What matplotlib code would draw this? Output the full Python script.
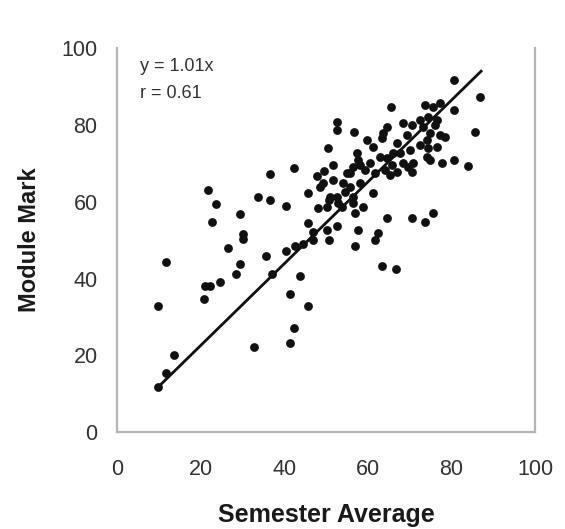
import matplotlib
matplotlib.use("Agg")
import matplotlib.pyplot as plt

# valeurs
semester_avg = [9.7, 11.7, 9.9, 11.7, 13.6, 20.8, 21.1, 22.2, 24.6, 26.6,
                28.4, 29.4, 30.2, 30.2, 29.5, 22.8, 23.8, 21.7, 33.8, 36.7,
                40.5, 36.7, 42.4, 50.4, 35.6, 40.4, 42.6, 44.6, 47.0, 37.0,
                43.8, 41.4, 45.8, 42.4, 41.4, 32.8, 45.8, 47.8, 49.5, 48.6,
                48.2, 45.8, 46.9, 50.2, 52.6, 50.6, 50.2, 52.9, 52.6, 52.6,
                51.7, 51.7, 50.6, 52.6, 55.0, 53.8, 56.7, 63.7, 64.5, 63.3,
                59.7, 61.3, 65.5, 68.5, 70.5, 72.5, 74.5, 73.7, 75.7, 77.3,
                76.5, 76.1, 73.3, 74.9, 77.3, 78.5, 69.3, 66.9, 66.1, 72.5,
                74.1, 74.5, 76.5, 74.1, 74.9, 77.7, 70.1, 67.7, 68.5, 70.9,
                69.7, 70.5, 80.5, 83.9, 80.5, 86.8, 80.5, 85.6, 57.3, 57.7,
                56.5, 58.1, 59.3, 60.5, 62.9, 64.5, 65.7, 64.1, 65.3, 61.7,
                66.9, 49.4, 54.1, 55.7, 55.7, 58.1, 54.5, 56.5, 51.0, 56.5,
                58.9, 61.3, 56.9, 64.5, 70.5, 73.7, 75.7, 57.7, 62.5, 56.9,
                61.7, 63.5, 66.7]
module_mark = [32.8, 44.3, 11.8, 15.4, 20.2, 34.8, 38.0, 38.0, 39.0, 48.0,
               41.1, 43.9, 50.2, 51.7, 56.8, 54.8, 59.4, 63.0, 61.3, 60.4,
               58.9, 67.2, 68.9, 74.1, 45.8, 47.2, 48.4, 49.1, 50.0, 41.3,
               40.6, 35.9, 32.8, 27.0, 23.3, 22.2, 62.2, 66.7, 68.0, 63.9,
               58.3, 54.4, 52.2, 52.6, 53.6, 50.0, 58.7, 59.6, 80.7, 78.6,
               69.5, 65.6, 60.4, 61.3, 67.4, 58.7, 78.2, 77.8, 79.5, 76.5,
               76.0, 74.3, 84.6, 80.4, 79.9, 81.3, 82.1, 85.2, 84.7, 85.6,
               81.3, 79.9, 79.5, 77.8, 77.3, 76.9, 77.3, 75.2, 72.6, 74.7,
               76.0, 73.9, 74.3, 71.7, 70.8, 70.0, 73.4, 72.6, 70.0, 70.0,
               69.1, 67.8, 71.0, 69.3, 91.8, 87.2, 84.0, 78.2, 72.6, 70.8,
               69.1, 69.5, 68.2, 70.0, 71.7, 71.3, 69.5, 68.2, 66.9, 67.4,
               67.8, 64.8, 64.8, 63.9, 67.4, 64.8, 62.6, 61.3, 61.3, 59.6,
               58.7, 62.2, 57.0, 55.7, 55.8, 54.8, 57.0, 52.6, 51.9, 48.4,
               50.0, 43.2, 42.6]

# droite de tendance (extrémités lues)
fit_x = [9.9, 87.1]
fit_y = [11.8, 94.0]

plt.rcParams['font.family'] = ['Liberation Sans', 'DejaVu Sans']

fig = plt.figure(figsize=(5.65, 5.29), dpi=100)
ax = fig.add_axes([0.207, 0.183, 0.740, 0.726])

ax.scatter(semester_avg, module_mark, s=40, color='#111111', zorder=3, linewidths=0)
ax.plot(fit_x, fit_y, color='#111111', linewidth=2.0, zorder=4)

ax.set_xlim(0, 100)
ax.set_ylim(0, 100)
ax.set_xticks([0, 20, 40, 60, 80, 100])
ax.set_yticks([0, 20, 40, 60, 80, 100])
ax.tick_params(length=0, labelsize=15.5, labelcolor='#333333')
ax.tick_params(axis='x', pad=19)
ax.tick_params(axis='y', pad=14)

for side in ['left', 'bottom', 'right']:
    ax.spines[side].set_color('#b5b5b5')
    ax.spines[side].set_linewidth(1.6)
ax.spines['top'].set_visible(False)

ax.set_xlabel('Semester Average', fontsize=18, fontweight='bold', color='#1a1a1a', labelpad=17)
ax.set_ylabel('Module Mark', fontsize=17, fontweight='bold', color='#1a1a1a', labelpad=15)

ax.text(0.055, 0.975, 'y = 1.01x', transform=ax.transAxes, fontsize=13, color='#333333', va='top')
ax.text(0.055, 0.905, 'r = 0.61', transform=ax.transAxes, fontsize=13, color='#333333', va='top')

fig.savefig('out.png', dpi=100)
